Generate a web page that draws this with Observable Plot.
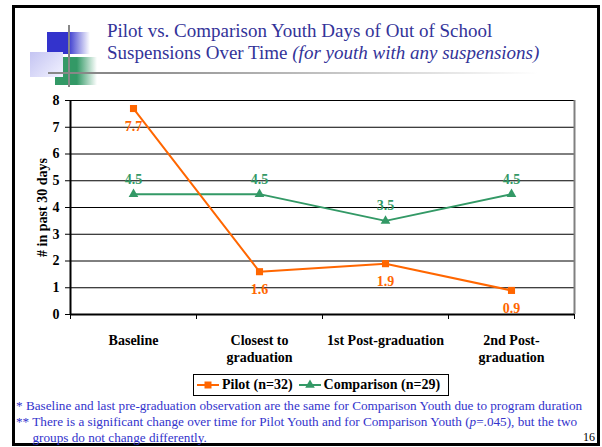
<!DOCTYPE html>
<html>
<head>
<meta charset="utf-8">
<script src="https://cdn.jsdelivr.net/npm/d3@7"></script>
<script src="https://cdn.jsdelivr.net/npm/@observablehq/plot@0.6"></script>
<style>
  html, body { margin: 0; padding: 0; background: #fff; }
  body { width: 602px; height: 447px; position: relative; overflow: hidden; font-family: 'Liberation Serif', serif; }
  .abs { position: absolute; }
  #frame { left: 12px; top: 5px; width: 588px; height: 441px; border: 3px solid #000; box-sizing: border-box; }
  #title { left: 107px; top: 20px; font-family: 'Liberation Serif', serif; font-size: 19px; line-height: 22px; color: #333399; white-space: nowrap; }
  #notes { left: 16px; top: 398px; font-family: 'Liberation Serif', serif; font-size: 13.2px; line-height: 16px; color: #3333cc; white-space: nowrap; }
  #page { left: 583px; top: 429px; font-family: 'Liberation Serif', serif; font-size: 12px; line-height: 16px; color: #000; }
  #legend { left: 193px; top: 374px; width: 256px; height: 22px; border: 1.5px solid #000; box-sizing: border-box; display: flex; align-items: center; font-family: 'Liberation Serif', serif; font-weight: bold; font-size: 14px; padding-left: 3px; }
  #legend svg { display: block; }
  #chart { left: 0; top: 90px; }
</style>
</head>
<body>
<div class="abs" id="frame"></div>
<!-- logo decoration -->
<div class="abs" style="left:55px;top:57px;width:42px;height:28px;background:linear-gradient(to right,#339966 0%,#339966 52%,#ffffff 100%);"></div>
<div class="abs" style="left:47px;top:32px;width:43px;height:22px;background:linear-gradient(to right,#3333cc 0%,#3333cc 48%,#ffffff 100%);"></div>
<div class="abs" style="left:30px;top:52px;width:33px;height:25px;background:linear-gradient(135deg,#c4c4f2 0%,#f2f2ff 100%);"></div>
<div class="abs" style="left:68px;top:25px;width:2px;height:62px;background:#888;"></div>
<div class="abs" style="left:48px;top:72px;width:490px;height:2px;background:linear-gradient(to right,#888 0%,#888 15%,#ffffff 100%);"></div>

<div class="abs" id="title">Pilot vs. Comparison Youth Days of Out of School<br>Suspensions Over Time <i>(for youth with any suspensions)</i></div>
<div class="abs" id="chart"></div>
<div class="abs" id="legend"></div>
<div class="abs" id="notes">* Baseline and last pre-graduation observation are the same for Comparison Youth due to program duration<br>** There is a significant change over time for Pilot Youth and for Comparison Youth (<i>p</i>=.045), but the two<br>&nbsp;&nbsp;&nbsp;&nbsp;&nbsp;groups do not change differently.</div>
<div class="abs" id="page">16</div>

<script>
// ---- data ----
const categories = ["Baseline", "Closest to\ngraduation", "1st Post-graduation", "2nd Post-\ngraduation"];
const pilot = [7.7, 1.6, 1.9, 0.9];
const comparison = [4.5, 4.5, 3.5, 4.5];
const yTicks = [0, 1, 2, 3, 4, 5, 6, 7, 8];
const seriesNames = ["Pilot (n=32)", "Comparison (n=29)"];
const colors = ["#FF6600", "#339966"];

const pilotData = categories.map((c, i) => ({ x: i + 0.5, v: pilot[i] }));
const compData = categories.map((c, i) => ({ x: i + 0.5, v: comparison[i] }));
const boundaries = d3.range(categories.length + 1);
const centers = categories.map((c, i) => i + 0.5);

const chart = Plot.plot({
  width: 590,
  height: 280,
  marginLeft: 70,
  marginRight: 16,
  marginTop: 10,
  marginBottom: 56,
  style: { fontFamily: "'Liberation Serif', serif", fontSize: "14px", fontWeight: "bold", color: "#000", background: "transparent", overflow: "visible" },
  x: { type: "linear", domain: [0, categories.length] },
  y: { domain: [0, 8] },
  marks: [
    Plot.gridY(yTicks.slice(1), { stroke: "#000", strokeOpacity: 1, strokeWidth: 1 }),
    Plot.axisY(yTicks, { tickSize: 5, tickPadding: 6, fontSize: 14, fontWeight: "bold", stroke: "#000", label: "# in past 30 days", labelAnchor: "center", labelOffset: 33, labelArrow: "none" }),
    Plot.axisX(boundaries, { tickSize: 5, tickFormat: () => "", stroke: "#000", label: null }),
    Plot.axisX(centers, { tickSize: 0, tickPadding: 19, lineHeight: 1.2, fontSize: 14, fontWeight: "bold", tickFormat: d => categories[Math.floor(d)], label: null }),
    Plot.ruleX([categories.length], { stroke: "#808080", strokeWidth: 2 }),
    Plot.ruleY([0], { stroke: "#000", strokeWidth: 2 }),
    Plot.ruleX([0], { stroke: "#000", strokeWidth: 2 }),
    Plot.line(compData, { x: "x", y: "v", stroke: colors[1], strokeWidth: 2 }),
    Plot.dot(compData, { x: "x", y: "v", symbol: "triangle", r: 3.6, fill: colors[1], stroke: "none" }),
    Plot.line(pilotData, { x: "x", y: "v", stroke: colors[0], strokeWidth: 2 }),
    Plot.dot(pilotData, { x: "x", y: "v", symbol: "square", r: 4, fill: colors[0], stroke: "none" }),
    Plot.text(pilotData, { x: "x", y: "v", text: d => d.v.toFixed(1), dy: 18, fill: colors[0], fontSize: 14, fontWeight: "bold" }),
    Plot.text(compData, { x: "x", y: "v", text: d => d.v.toFixed(1), dy: -15, fill: colors[1], fontSize: 14, fontWeight: "bold" })
  ]
});
document.getElementById("chart").appendChild(chart);

// ---- legend ----
const legend = document.getElementById("legend");
seriesNames.forEach((name, i) => {
  const sw = d3.create("svg").attr("width", 22).attr("height", 12).style("margin-right", "3px").style("margin-left", i ? "6px" : "0");
  sw.append("line").attr("x1", 0).attr("x2", 22).attr("y1", 6).attr("y2", 6).attr("stroke", colors[i]).attr("stroke-width", 2);
  sw.append("path").attr("transform", "translate(11,6)")
    .attr("d", d3.symbol(i ? d3.symbolTriangle : d3.symbolSquare, i ? 40 : 49)())
    .attr("fill", colors[i]);
  legend.appendChild(sw.node());
  const t = document.createElement("span");
  t.textContent = name;
  legend.appendChild(t);
});
</script>
</body>
</html>
